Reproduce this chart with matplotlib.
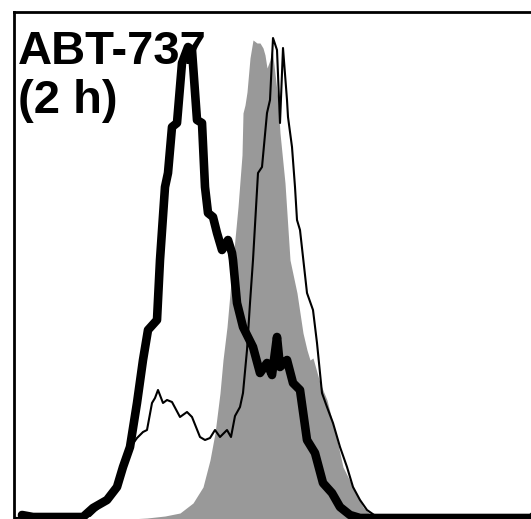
import numpy as np
import matplotlib
matplotlib.use('Agg')
import matplotlib.pyplot as plt

plt.rcParams['font.family'] = ['Liberation Sans', 'DejaVu Sans']

# 荧光通道 (x) 与细胞计数 (y)
# 灰色填充：对照
ctrl_x = [116, 133, 151, 166, 179, 189, 196, 201, 206, 209, 213, 216, 219, 224, 228, 229, 231, 233,
          236, 239, 243, 246, 249, 251, 253, 256, 258, 260, 264, 266, 271, 276, 283, 289, 293, 296,
          299, 306, 313, 318, 323, 329, 339, 349, 359, 366]
ctrl_y = [0, 1, 3, 6, 16, 32, 59, 86, 126, 159, 192, 226, 259, 312, 364, 406, 414, 427,
          461, 479, 476, 476, 471, 464, 451, 459, 471, 454, 419, 386, 336, 259, 226, 186, 169, 159,
          161, 136, 119, 99, 79, 52, 32, 12, 2, 0]

# 细线：ABT-737 另一样本
thin_x = [0, 76, 93, 103, 111, 118, 123, 129, 133, 138, 141, 144, 149, 153, 158, 166, 173, 178,
          186, 191, 196, 201, 206, 213, 217, 221, 226, 229, 233, 236, 239, 244, 248, 253, 256, 259,
          263, 266, 269, 273, 274, 278, 281, 283, 286, 289, 293, 299, 303, 308, 313, 319, 326, 333,
          339, 346, 353, 363, 373, 513, 517]
thin_y = [1, 3, 19, 32, 54, 74, 81, 87, 89, 116, 121, 129, 116, 119, 117, 102, 107, 102,
          82, 79, 81, 89, 82, 89, 82, 103, 112, 126, 169, 216, 259, 346, 352, 406, 419, 481,
          469, 396, 471, 419, 402, 372, 332, 299, 289, 262, 226, 209, 176, 126, 112, 96, 72, 52,
          32, 19, 9, 2, 1, 1, 5]

# 粗线：ABT-737 (2 h)
thick_x = [8, 19, 59, 69, 79, 93, 103, 109, 116, 123, 129, 134, 143, 146, 151, 154, 158, 163,
           168, 174, 178, 183, 188, 191, 194, 199, 203, 208, 214, 218, 219, 223, 229, 239, 246,
           253, 258, 263, 266, 273, 279, 286, 293, 301, 309, 318, 326, 336, 346, 517]
thick_y = [4, 2, 2, 2, 11, 19, 32, 52, 72, 116, 159, 189, 199, 259, 332, 346, 392, 396,
           456, 472, 469, 399, 396, 332, 306, 302, 286, 269, 279, 266, 259, 216, 192, 172, 146,
           156, 144, 182, 152, 159, 136, 129, 79, 66, 36, 26, 12, 4, 1, 1]

fig = plt.figure(figsize=(5.31, 5.19), dpi=100)
ax = fig.add_axes([14 / 531, 0, 517 / 531, 507 / 519])

ax.fill_between(ctrl_x, ctrl_y, 0, color='#999999', linewidth=0, zorder=1)
ax.plot(thin_x, thin_y, color='black', linewidth=1.5, zorder=3)
ax.plot(thick_x, thick_y, color='black', linewidth=6.2, solid_joinstyle='round',
        solid_capstyle='round', zorder=4)

ax.text(4, 489, 'ABT-737\n(2 h)', fontsize=34, fontweight='bold', ha='left', va='top',
        linespacing=1.15, zorder=2)

ax.set_xlim(0, 517)
ax.set_ylim(0, 507)
ax.set_xticks([])
ax.set_yticks([])
ax.spines['right'].set_visible(False)
ax.spines['bottom'].set_visible(False)
ax.spines['left'].set_linewidth(2)
ax.spines['top'].set_linewidth(2)

fig.savefig('out.png', dpi=100)
